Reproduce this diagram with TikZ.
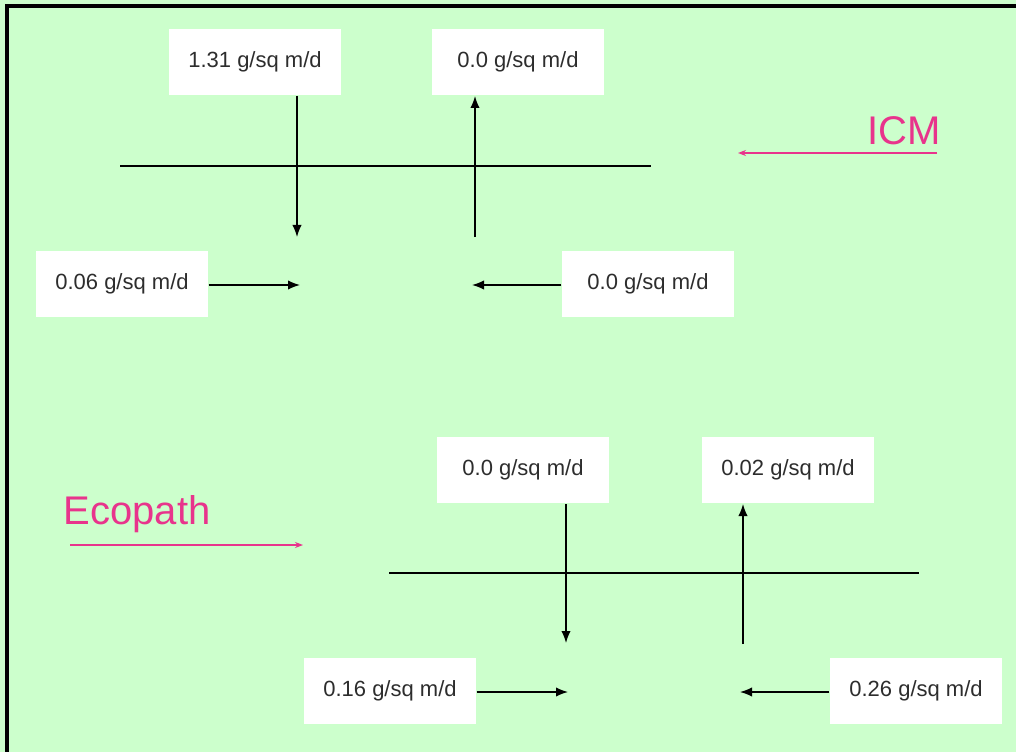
\documentclass[tikz,border=0pt]{standalone}
\usepackage{fontspec}
\setmainfont{Liberation Sans}
\usetikzlibrary{arrows.meta}
\definecolor{bggreen}{RGB}{204,255,204}
\definecolor{labelpink}{RGB}{232,52,140}
\definecolor{textgray}{RGB}{45,45,45}
\tikzset{
  flowbox/.style={fill=white,text=textgray,minimum width=129pt,minimum height=50pt,font=\fontsize{16.5}{19}\selectfont},
  modeltext/.style={text=labelpink,font=\fontsize{30}{34}\selectfont},
  pinkarrow/.style={labelpink,line width=0.8pt,-{Stealth[length=6pt,width=4.5pt]}}
}
\begin{document}
\begin{tikzpicture}[x=0.75pt,y=-0.75pt,line width=1pt,>={Latex[length=9pt,width=7pt]}]
            \fill[bggreen] (0,0) rectangle (1016,752);
            \useasboundingbox (0,0) rectangle (1016,752);
            \draw[line width=2.4pt] (7,752) -- (7,6) -- (1016,6);

            % ICM
            \node[flowbox] (A) at (255,62) {1.31 g/sq m/d};
            \node[flowbox] (B) at (518,62) {0.0 g/sq m/d};
            \node[flowbox] (C) at (122,284) {0.06 g/sq m/d};
            \node[flowbox] (D) at (648,284) {0.0 g/sq m/d};
            \coordinate (Ta) at (120,166);
            \coordinate (Tb) at (651,166);
            \coordinate (Ad) at (297,237);
            \coordinate (Bu) at (475,237);
            \coordinate (Cr) at (300,285);
            \coordinate (Dl) at (472,285);
            \node[modeltext] (icm) at (904,131) {ICM};
            \coordinate (Ia) at (937,153);
            \coordinate (Ib) at (738,153);

            \path [-] (Ta) edge (Tb);
            \path [->] (A.south -| Ad) edge (Ad);
            \path [->] (Bu) edge (B.south -| Bu);
            \path [->] (C.east |- Cr) edge (Cr);
            \path [->] (D.west |- Dl) edge (Dl);
            \path [pinkarrow] (Ia) edge (Ib);

            % Ecopath
            \node[flowbox] (E) at (523,470) {0.0 g/sq m/d};
            \node[flowbox] (F) at (788,470) {0.02 g/sq m/d};
            \node[flowbox] (G) at (390,691) {0.16 g/sq m/d};
            \node[flowbox] (H) at (916,691) {0.26 g/sq m/d};
            \coordinate (Ba) at (389,573);
            \coordinate (Bb) at (919,573);
            \coordinate (Ed) at (566,643);
            \coordinate (Fu) at (743,644);
            \coordinate (Gr) at (568,692);
            \coordinate (Hl) at (740,692);
            \node[modeltext] (eco) at (137,514) {Ecopath};
            \coordinate (Ea) at (70,545);
            \coordinate (Eb) at (303,545);

            \path [-] (Ba) edge (Bb);
            \path [->] (E.south -| Ed) edge (Ed);
            \path [->] (Fu) edge (F.south -| Fu);
            \path [->] (G.east |- Gr) edge (Gr);
            \path [->] (H.west |- Hl) edge (Hl);
            \path [pinkarrow] (Ea) edge (Eb);
\end{tikzpicture}
\end{document}
